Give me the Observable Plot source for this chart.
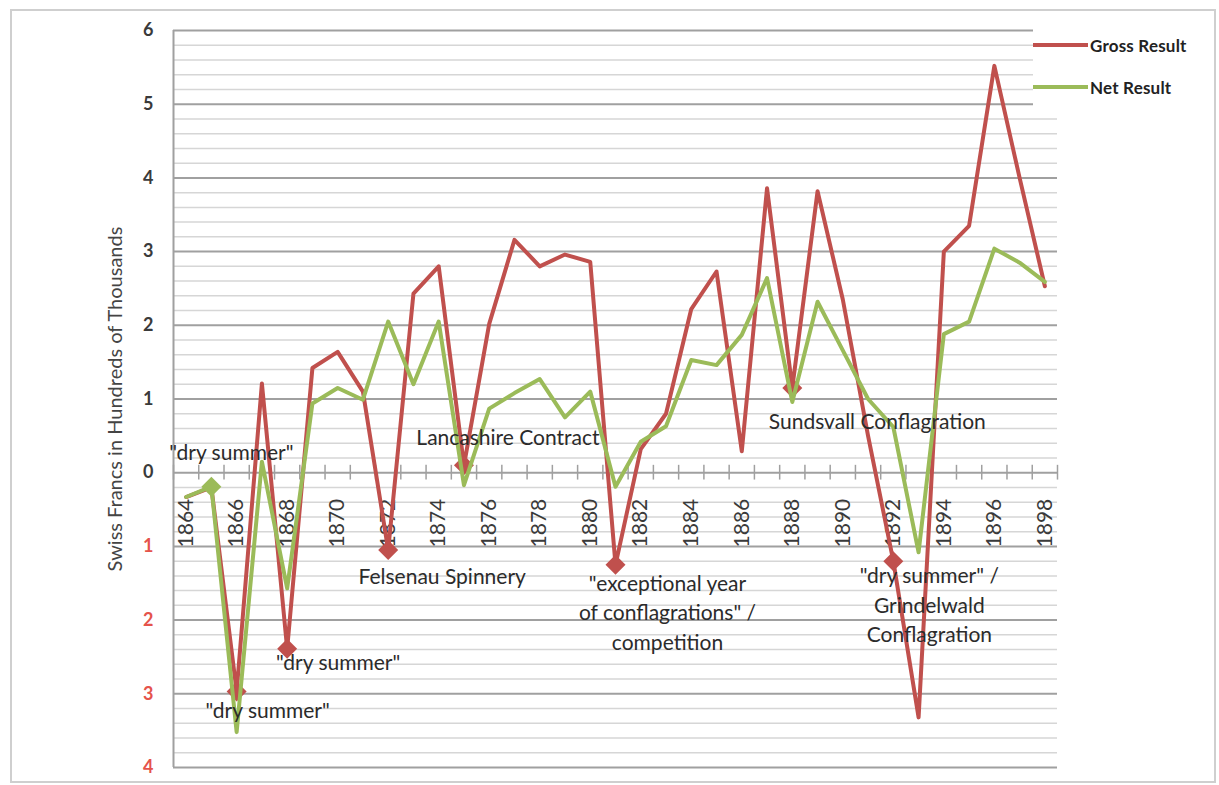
<!DOCTYPE html>
<html>
<head>
<meta charset="utf-8">
<script src="https://cdn.jsdelivr.net/npm/d3@7"></script>
<script src="https://cdn.jsdelivr.net/npm/@observablehq/plot@0.6"></script>
<style>
  body { margin: 0; background: #fff; font-family: Lato, "Open Sans", sans-serif; }
  #wrap { position: relative; width: 1219px; height: 785px; overflow: hidden; }
  #wrap svg { position: absolute; left: 0; top: 0; }
  #border { position: absolute; left: 10px; top: 9px; width: 1206px; height: 774px; border: 2px solid #cfcfcf; box-sizing: border-box; pointer-events: none; }
  #legend { position: absolute; left: 1033px; top: 24px; font: bold 17px Lato, sans-serif; color: #222; background: #fff; padding-right: 4px; letter-spacing: 0.2px; }
  .item { display: flex; align-items: center; height: 42px; }
  .sw { width: 55px; height: 4px; margin-right: 2px; }
</style>
</head>
<body>
<div id="wrap"><div id="border"></div></div>
<script>
// ---- data ----
const years = [1864,1865,1866,1867,1868,1869,1870,1871,1872,1873,1874,1875,1876,1877,1878,1879,1880,1881,1882,1883,1884,1885,1886,1887,1888,1889,1890,1891,1892,1893,1894,1895,1896,1897,1898];
const gross = [-0.33,-0.2,-2.97,1.21,-2.39,1.42,1.64,1.1,-1.05,2.43,2.8,0.1,2.02,3.16,2.8,2.96,2.86,-1.25,0.32,0.8,2.22,2.73,0.29,3.86,1.15,3.82,2.35,0.5,-1.2,-3.32,3.0,3.35,5.52,4.0,2.53];
const net   = [-0.33,-0.19,-3.52,0.15,-1.57,0.94,1.15,0.99,2.05,1.2,2.05,-0.17,0.87,1.08,1.27,0.75,1.1,-0.19,0.42,0.63,1.53,1.46,1.87,2.64,0.96,2.32,1.66,1.0,0.62,-1.08,1.88,2.05,3.04,2.85,2.59];
const seriesNames = ["Gross Result", "Net Result"];
const yTicks = [-4,-3,-2,-1,0,1,2,3,4,5,6];
const xTickLabels = [1864,1866,1868,1870,1872,1874,1876,1878,1880,1882,1884,1886,1888,1890,1892,1894,1896,1898];
const yLabel = "Swiss Francs in Hundreds of Thousands";
const grossMarkerYears = [1866,1868,1872,1875,1881,1888,1892];
const netMarkerYears = [1865];
const annYears  = [1865,1866,1868,1872,1875,1881,1888,1892];
const annSeries = ["net","gross","gross","gross","gross","gross","gross","gross"];
const annTexts  = ['"dry summer"','"dry summer"','"dry summer"','Felsenau Spinnery','Lancashire Contract','"exceptional year\nof conflagrations" /\ncompetition','Sundsvall Conflagration','"dry summer" /\nGrindelwald\nConflagration'];

// ---- styles ----
const RED = "#c0504d", GREEN = "#9bbb59";
const annOffsets = [[20,-36],[31,17],[51,12],[54,24],[44,-30],[52,46],[85,32],[36,42]];

const rows = years.map((year, i) => ({year, gross: gross[i], net: net[i]}));
const byYear = new Map(rows.map(r => [r.year, r]));
const yMinor = d3.range(-40, 61, 2).map(d => d / 10).filter(d => !Number.isInteger(d));
const bounds = d3.range(years.length + 1).map(i => years[0] - 0.5 + i);

const annMarks = annTexts.map((t, i) => Plot.text([byYear.get(annYears[i])], {
  x: "year", y: annSeries[i], text: () => t,
  dx: annOffsets[i][0], dy: annOffsets[i][1],
  fontSize: 21, fill: "#2b2b2b", lineHeight: 1.4
}));

const chart = Plot.plot({
  width: 1219, height: 785,
  marginLeft: 173, marginRight: 162, marginTop: 30, marginBottom: 18,
  style: {fontFamily: "Lato, sans-serif", background: "transparent"},
  x: {domain: [years[0] - 0.5, years[years.length - 1] + 0.5], axis: null},
  y: {domain: [-4, 6]},
  marks: [
    Plot.gridY(yMinor, {stroke: "#d6d6d6", strokeOpacity: 1, strokeWidth: 1.5}),
    Plot.gridY(yTicks, {stroke: "#a0a0a0", strokeOpacity: 1, strokeWidth: 2}),
    Plot.ruleX([years[0] - 0.5], {stroke: "#a0a0a0", strokeWidth: 2}),
    Plot.ruleX(bounds, {y1: -0.1, y2: 0.1, stroke: "#a0a0a0", strokeWidth: 1.5}),
    Plot.axisY(yTicks.filter(d => d >= 0), {tickSize: 0, tickPadding: 20, fontSize: 18, fontWeight: "bold", color: "#3a3a3a", fill: "#3a3a3a", tickFormat: d => Math.abs(d), label: null}),
    Plot.axisY(yTicks.filter(d => d < 0), {tickSize: 0, tickPadding: 20, fontSize: 18, fontWeight: "bold", color: "#e5534b", fill: "#e5534b", tickFormat: d => Math.abs(d), label: null}),
    Plot.text(xTickLabels, {x: d => d, y: () => 0, text: d => String(d), rotate: -90, textAnchor: "end", dy: 26, fontSize: 21, fill: "#3a3a3a"}),
    Plot.text([yLabel], {frameAnchor: "middle", text: d => d, rotate: -90, dx: -500, fontSize: 20, fill: "#444"}),
    Plot.line(rows, {x: "year", y: "gross", stroke: RED, strokeWidth: 4}),
    Plot.dot(grossMarkerYears.map(y => byYear.get(y)), {x: "year", y: "gross", symbol: "diamond2", r: 9, fill: RED, stroke: "none"}),
    Plot.line(rows, {x: "year", y: "net", stroke: GREEN, strokeWidth: 4}),
    Plot.dot(netMarkerYears.map(y => byYear.get(y)), {x: "year", y: "net", symbol: "diamond2", r: 9, fill: GREEN, stroke: "none"}),
    ...annMarks
  ]
});
const wrap = document.getElementById("wrap");
wrap.insertBefore(chart, wrap.firstChild);

// legend
const legend = document.createElement("div");
legend.id = "legend";
[[seriesNames[0], RED], [seriesNames[1], GREEN]].forEach(([name, c]) => {
  const it = document.createElement("div");
  it.className = "item";
  it.innerHTML = `<span class="sw" style="background:${c}"></span><span>${name}</span>`;
  legend.appendChild(it);
});
wrap.appendChild(legend);
</script>
</body>
</html>
